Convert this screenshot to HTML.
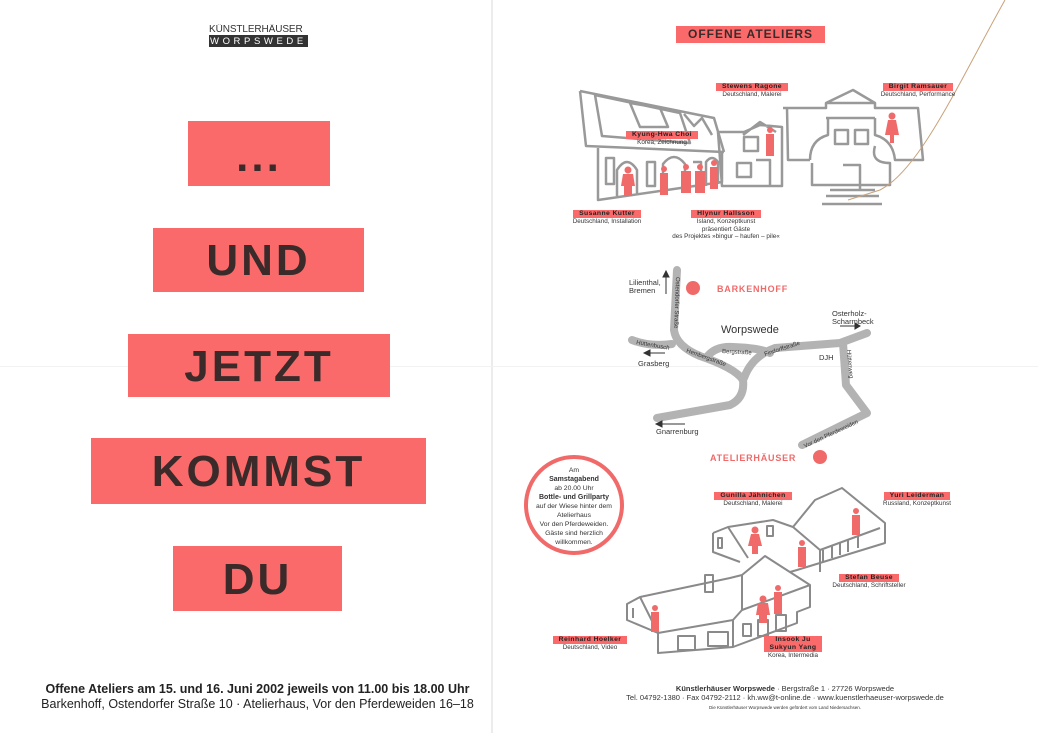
<!DOCTYPE html>
<html><head><meta charset="utf-8"><style>
html,body{margin:0;padding:0;background:#fff}
body{width:1038px;height:733px;position:relative;overflow:hidden;font-family:"Liberation Sans",sans-serif}
.rb{position:absolute;background:#fb6a6a;color:#3a2a2a;font-weight:bold;text-align:center;font-family:"Liberation Sans",sans-serif}
.big{font-size:44px;letter-spacing:3px}
</style></head><body>
<div style="position:absolute;left:491px;top:0;width:2px;height:733px;background:#ececec"></div>
<div style="position:absolute;left:0;top:366px;width:1038px;height:1px;background:#f2f2f2"></div>
<!-- logo -->
<div style="position:absolute;left:209px;top:24px;width:99px;font-size:10px;letter-spacing:-0.1px;color:#333;line-height:11px;border-bottom:1px solid #333;white-space:nowrap;overflow:hidden">KÜNSTLERHÄUSER</div>
<div style="position:absolute;left:209px;top:36px;width:99px;height:11px;background:#333;color:#fff;font-size:9.5px;line-height:11px;letter-spacing:3.6px;white-space:nowrap;overflow:hidden;padding-left:1px;box-sizing:border-box">WORPSWEDE</div>

<div class="rb big" style="left:188px;top:121px;width:142px;height:65px;line-height:72px">...</div>
<div class="rb big" style="left:153px;top:228px;width:211px;height:64px;line-height:66px">UND</div>
<div class="rb big" style="left:128px;top:334px;width:262px;height:63px;line-height:66px">JETZT</div>
<div class="rb big" style="left:91px;top:438px;width:335px;height:66px;line-height:68px">KOMMST</div>
<div class="rb big" style="left:173px;top:546px;width:169px;height:65px;line-height:67px">DU</div>

<div style="position:absolute;left:0;width:515px;top:682px;text-align:center;font-size:12.5px;font-weight:bold;color:#222">Offene Ateliers am 15. und 16. Juni 2002 jeweils von 11.00 bis 18.00 Uhr</div>
<div style="position:absolute;left:0;width:515px;top:697px;text-align:center;font-size:12.5px;color:#222">Barkenhoff, Ostendorfer Straße 10 · Atelierhaus, Vor den Pferdeweiden 16–18</div>

<div class="rb" style="left:676px;top:26px;width:149px;height:17px;font-size:12px;line-height:17px;letter-spacing:1px">OFFENE ATELIERS</div>

<svg width="1038" height="733" style="position:absolute;left:0;top:0" xmlns="http://www.w3.org/2000/svg">
<g fill="none" stroke="#999" stroke-width="2.5" stroke-linejoin="round">
<path d="M580,91 L714,118 L724,152 M580,91 L586,146 L724,152 M595,95 L602,136 L690,143 L680,113 Z M630,103 L640,127 L668,127 L660,108 Z M684,114 L694,126 L702,118 L712,135"/>
<path d="M598,148 L598,200 L722,182 L722,152 M606,158 h8 v26 h-8 Z M617,196 v-26 q10,-16 20,0 v24 M647,162 h8 v24 h-8 Z M663,192 v-28 q11,-14 22,0 v24 M693,162 h8 v22 M706,186 v-24 q6,-8 12,0 v22"/>
<path d="M718,132 L744,132 L760,125 L782,127 L782,186 L722,186 Z M743,135 L760,122 L776,132 M744,137 h14 v14 h-14 Z M737,163 h14 v14 h-14 Z M756,160 h14 v26"/>
<path d="M783,108 L826,108 L826,103 L853,90 L875,103 L875,108 L918,108 L923,160 L903,160 M826,103 L875,103 M826,118 L875,118 M787,108 L788,160 L810,160 M810,160 q0,-20 18,-25 L828,118 M875,118 L875,135 q18,5 20,25 L903,160 M835,130 h13 v14 h-13 Z M855,130 h13 v14 h-13 Z M812,163 L812,185 L890,185 L890,163 q-20,0 -15,-17 M843,165 h17 v24 M830,190 h45 M826,196 h53 M822,204 h60"/>
</g>
<path d="M1005,0 C960,80 920,170 880,190 L848,200" fill="none" stroke="#c9a27a" stroke-width="1"/>
<g fill="#f06a6a">
<g transform="translate(628,167)"><circle cx="0" cy="3" r="3.5"/><path d="M-5,7 h10 l2,12 h-3 v10 h-8 v-10 h-3 Z"/></g>
<g transform="translate(664,166)"><circle cx="0" cy="3" r="3"/><rect x="-4" y="7" width="8" height="22"/></g>
<g transform="translate(686,164)"><circle cx="0" cy="3" r="3"/><rect x="-5" y="7" width="10" height="22"/></g>
<g transform="translate(700,164)"><circle cx="0" cy="3" r="3"/><rect x="-5" y="7" width="10" height="22"/></g>
<g transform="translate(714,160)"><circle cx="0" cy="3" r="3"/><rect x="-4" y="7" width="8" height="22"/></g>
<g transform="translate(770,127)"><circle cx="0" cy="3" r="3"/><rect x="-4" y="7" width="8" height="22"/></g>
<g transform="translate(892,113)"><circle cx="0" cy="3" r="3.5"/><path d="M-4,7 h8 l3,15 h-5 v8 h-4 v-8 h-5 Z"/></g>
</g>
<g fill="none" stroke="#b3b3b3" stroke-width="8" stroke-linecap="round" stroke-linejoin="round">
<path d="M677,270 L674,330 Q676,346 700,356 Q735,368 743,380 Q745,398 730,405 L657,418"/>
<path d="M632,340 Q650,347 672,344"/>
<path d="M707,357 Q715,346 733,347 Q760,348 770,353"/>
<path d="M744,378 Q752,356 775,348 L840,343 L867,333"/>
<path d="M843,343 L846,385 L867,413 L802,445"/>
</g>
<g font-family="Liberation Sans,sans-serif" fill="#333" font-size="6">
<text transform="translate(676,277) rotate(92)">Ostendorfer Straße</text>
<text transform="translate(636,344) rotate(10)">Hüttenbusch</text>
<text transform="translate(686,352) rotate(20)">Hembergstraße</text>
<text transform="translate(722,353) rotate(3)">Bergstraße</text>
<text transform="translate(765,356) rotate(-18)">Findorffstraße</text>
<text transform="translate(847,350) rotate(85)">Hüttenweg</text>
<text transform="translate(805,448) rotate(-25)">Vor den Pferdeweiden</text>
</g>
<g font-family="Liberation Sans,sans-serif" fill="#333" font-size="7.5">
<text x="629" y="285">Lilienthal,</text><text x="629" y="293">Bremen</text>
<text x="638" y="366">Grasberg</text>
<text x="656" y="434">Gnarrenburg</text>
<text x="832" y="316">Osterholz-</text><text x="832" y="324">Scharmbeck</text>
<text x="819" y="360">DJH</text>
<text x="721" y="333" font-size="11">Worpswede</text>
</g>
<g stroke="#333" stroke-width="1" fill="#333">
<path d="M666,294 V273"/><path d="M663,277 L666,271 L669,277 Z"/>
<path d="M665,353 H647"/><path d="M650,350 L644,353 L650,356 Z"/>
<path d="M685,424 H659"/><path d="M662,421 L656,424 L662,427 Z"/>
<path d="M840,326 H857"/><path d="M855,323 L860,326 L855,329 Z"/>
</g>
<circle cx="693" cy="288" r="7" fill="#f06a6a"/>
<circle cx="820" cy="457" r="7" fill="#f06a6a"/>
<g font-family="Liberation Sans,sans-serif" fill="#f06a6a" font-weight="bold" font-size="9" letter-spacing="0.8">
<text x="717" y="292">BARKENHOFF</text>
<text x="710" y="461">ATELIERHÄUSER</text>
</g>
<circle cx="574" cy="505" r="48" fill="#fff" stroke="#f06a6a" stroke-width="4"/>
<g font-family="Liberation Sans,sans-serif" fill="#333" font-size="6.8" text-anchor="middle">
<text x="574" y="472">Am</text>
<text x="574" y="481" font-weight="bold" font-size="7">Samstagabend</text>
<text x="574" y="490">ab 20.00 Uhr</text>
<text x="574" y="499" font-weight="bold" font-size="7">Bottle- und Grillparty</text>
<text x="574" y="508">auf der Wiese hinter dem</text>
<text x="574" y="517">Atelierhaus</text>
<text x="574" y="526">Vor den Pferdeweiden.</text>
<text x="574" y="535">Gäste sind herzlich</text>
<text x="574" y="544">willkommen.</text>
</g>
<g fill="none" stroke="#8a8a8a" stroke-width="2" stroke-linejoin="round">
<path d="M713,533 L728,527 L773,520 L793,527 L815,500 L842,488 L885,523 L885,543 L797,570 L790,572 M713,533 L713,552 L740,562 M728,527 L748,558 M793,527 L820,550 L880,528 M842,488 L815,500 M820,550 L820,572"/>
<path d="M627,604 L640,597 L730,578 L742,575 L765,556 L810,585 L810,607 L797,612 L797,623 L733,647 L658,653 L658,633 L627,620 Z M640,597 L658,633 L733,620 L742,610 L810,585 M742,575 L742,610 M733,620 L733,647 M705,575 h8 v17 h-8 Z"/>
<path d="M678,636 h17 v14 h-17 Z M708,632 h20 v14 h-20 Z M743,624 h8 v12 h-8 Z M758,620 h10 v16 h-10 Z M776,615 h10 v16 h-10 Z M633,608 v10 M718,538 v10 h4 v-10 Z M823,550 v12 M832,546 v12 M840,543 v12 M848,540 v12 M858,536 v12 M767,526 h6 v10 h-6 Z"/>
</g>
<g fill="#f06a6a">
<g transform="translate(655,605)"><circle cx="0" cy="3" r="3"/><rect x="-4" y="7" width="8" height="20"/></g>
<g transform="translate(763,596)"><circle cx="0" cy="3" r="3.5"/><path d="M-5,7 h10 l2,12 h-3 v8 h-8 v-8 h-3 Z"/></g>
<g transform="translate(778,585)"><circle cx="0" cy="3" r="3"/><rect x="-4" y="7" width="8" height="22"/></g>
<g transform="translate(755,527)"><circle cx="0" cy="3" r="3.5"/><path d="M-4,7 h8 l3,12 h-4 v8 h-6 v-8 h-4 Z"/></g>
<g transform="translate(802,540)"><circle cx="0" cy="3" r="3"/><rect x="-4" y="7" width="8" height="20"/></g>
<g transform="translate(856,508)"><circle cx="0" cy="3" r="3"/><rect x="-4" y="7" width="8" height="20"/></g>
</g>
</svg>

<style>
.lb{position:absolute;text-align:center;font-size:6.3px;color:#333;line-height:7.5px;font-family:"Liberation Sans",sans-serif}
.lb b{display:inline-block;background:#fb6a6a;color:#222;padding:0 6px;font-size:6.8px;line-height:8px;letter-spacing:0.4px}
</style>
<div class="lb" style="left:710px;top:83px;width:84px"><b>Stewens Ragone</b><br>Deutschland, Malerei</div>
<div class="lb" style="left:868px;top:83px;width:100px"><b>Birgit Ramsauer</b><br>Deutschland, Performance</div>
<div class="lb" style="left:620px;top:131px;width:84px"><b>Kyung-Hwa Choi</b><br>Korea, Zeichnung</div>
<div class="lb" style="left:565px;top:210px;width:84px"><b>Susanne Kutter</b><br>Deutschland, Installation</div>
<div class="lb" style="left:670px;top:210px;width:112px"><b>Hlynur Hallsson</b><br>Island, Konzeptkunst<br>präsentiert Gäste<br>des Projektes »bingur – haufen – pile«</div>
<div class="lb" style="left:705px;top:492px;width:96px"><b>Gunilla Jähnichen</b><br>Deutschland, Malerei</div>
<div class="lb" style="left:872px;top:492px;width:90px"><b>Yuri Leiderman</b><br>Russland, Konzeptkunst</div>
<div class="lb" style="left:825px;top:574px;width:88px"><b>Stefan Beuse</b><br>Deutschland, Schriftsteller</div>
<div class="lb" style="left:548px;top:636px;width:84px"><b>Reinhard Hoelker</b><br>Deutschland, Video</div>
<div class="lb" style="left:758px;top:636px;width:70px"><b>Insook Ju<br>Sukyun Yang</b><br>Korea, Intermedia</div>

<div style="position:absolute;left:580px;width:410px;top:684px;text-align:center;font-size:7.5px;color:#333;line-height:9px"><b>Künstlerhäuser Worpswede</b> · Bergstraße 1 · 27726 Worpswede<br>Tel. 04792-1380 · Fax 04792-2112 · kh.ww@t-online.de · www.kuenstlerhaeuser-worpswede.de<br><span style="font-size:4.5px">Die Künstlerhäuser Worpswede werden gefördert vom Land Niedersachsen.</span></div>
</body></html>
